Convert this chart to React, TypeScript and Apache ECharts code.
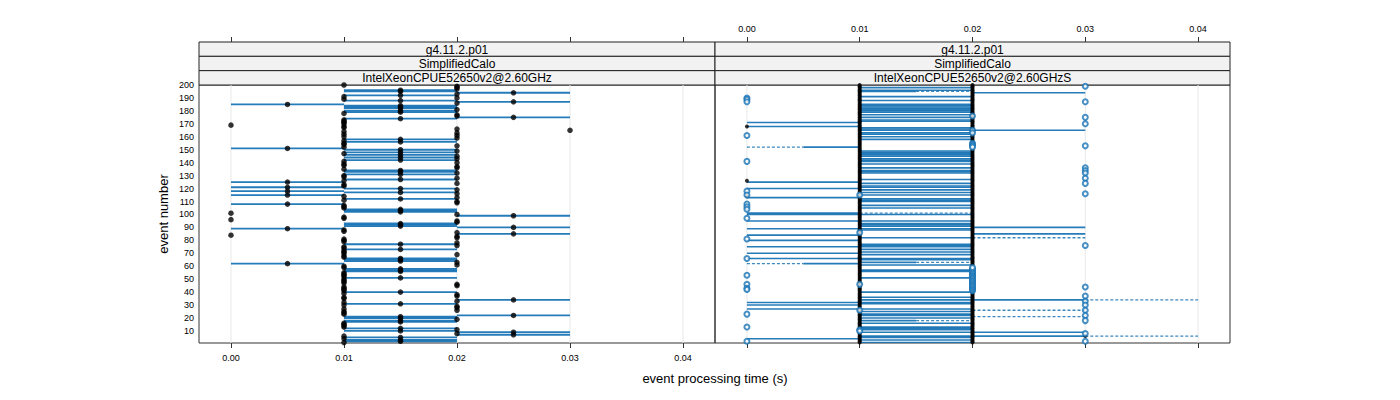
import React, { useEffect, useRef } from "react";
import * as echarts from "echarts";

// ---------- axes ----------
const X_MIN = -0.00283;
const X_MAX = 0.04283;
const Y_MIN = 0.7;
const Y_MAX = 200;
const xTicks = [0, 0.01, 0.02, 0.03, 0.04];
const yTicks = [10, 20, 30, 40, 50, 60, 70, 80, 90, 100, 110, 120, 130, 140, 150, 160, 170, 180, 190, 200];
const stripsLeft = ["g4.11.2.p01", "SimplifiedCalo", "IntelXeonCPUE52650v2@2.60GHz"];
const stripsRight = ["g4.11.2.p01", "SimplifiedCalo", "IntelXeonCPUE52650v2@2.60GHzS"];
const xTitle = "event processing time (s)";
const yTitle = "event number";
const eventNumbers = Array.from({ length: 200 }, (_, i) => i + 1);

// ---------- left panel: range (lo..hi) per event, dot at centre ----------
const leftLo = [
  .01, .01, .01, .01, .01, .01, .02, .02, .02, .01, .02, .01, .01, .01, .01, .01, .01, .01, .02, .01,
  .01, .02, .01, .01, .01, .02, .01, .02, .02, .01, .01, .01, .02, .02, .01, .01, .02, .02, .01, .01,
  .01, .01, .01, .01, .02, .02, .01, .01, .01, .01, .01, .01, .01, .01, .01, .01, .01, .01, .01, .01,
  .02, 0, .02, .01, .01, .01, .01, .01, .02, .01, .01, .01, .01, .01, .01, .02, .01, .02, .01, .01,
  .01, .02, .02, 0, .02, .02, .01, .01, 0, .02, .01, .01, .01, .02, .02, 0, .01, .01, .02, .02,
  0, .01, .01, .01, .01, .01, .01, 0, .02, .02, .01, .01, .02, .01, 0, .02, .01, 0, .02, .01,
  0, .01, .01, .02, 0, .01, .01, .02, .01, .01, .01, .02, .01, .01, .01, .02, .02, .01, .01, .02,
  .01, .01, .02, .01, .02, .01, .01, .01, .02, .01, 0, .01, .02, .01, .01, .01, .01, .01, .02, .01,
  .02, .01, .02, .01, .03, .02, .01, .01, 0, .01, .01, .01, .01, .01, .02, .02, .02, .01, .01, .01,
  .02, .01, .01, .01, 0, .02, .02, .01, .01, .02, .01, .01, .02, .02, .01, .01, .02, .02, .02, .01,
];
const leftHi = [
  .01, .02, .02, .01, .02, .01, .03, .02, .03, .02, .02, .02, .01, .01, .01, .01, .02, .02, .02, .02,
  .02, .03, .01, .01, .01, .02, .01, .02, .02, .01, .02, .01, .02, .03, .01, .01, .02, .02, .01, .02,
  .01, .01, .01, .01, .02, .02, .01, .01, .01, .01, .02, .01, .01, .01, .01, .02, .02, .02, .01, .01,
  .02, .01, .02, .02, .02, .02, .01, .01, .02, .01, .01, .01, .02, .01, .01, .02, .02, .02, .01, .01,
  .01, .02, .02, 0, .03, .02, .01, .01, .01, .03, .02, .02, .02, .02, .02, 0, .01, .01, .03, .02,
  0, .02, .02, .02, .01, .01, .01, .01, .02, .02, .01, .02, .02, .01, .01, .02, .02, .01, .02, .02,
  .01, .01, .01, .02, .01, .01, .02, .02, .01, .01, .02, .02, .02, .02, .01, .02, .02, .01, .01, .02,
  .01, .02, .02, .02, .02, .02, .01, .02, .02, .02, .01, .01, .02, .01, .01, .02, .01, .02, .02, .01,
  .02, .01, .02, .01, .03, .02, .01, .01, 0, .01, .01, .01, .01, .02, .03, .02, .02, .01, .02, .02,
  .02, .02, .02, .02, .01, .02, .03, .02, .01, .02, .01, .02, .02, .03, .02, .02, .02, .02, .02, .01,
];

// ---------- right panel ----------
// events whose solid range spans 0.01 .. 0.02
const rightMidEvents = [
  198, 196, 191, 188, 185, 184, 183, 182, 181, 180, 179, 177, 175, 173, 172, 167, 166, 165, 163, 162,
  160, 158, 149, 148, 147, 146, 145, 143, 142, 141, 139, 136, 134, 133, 132, 127, 124, 122, 121, 119,
  117, 115, 112, 111, 110, 107, 105, 100, 95, 93, 92, 91, 89, 88, 82, 77, 76, 75, 73, 71, 69, 66,
  65, 61, 57, 56, 51, 40, 36, 34, 32, 31, 27, 25, 23, 22, 20, 16, 13, 12, 11, 9, 6, 5, 3, 1,
];
// other solid ranges [from, to, event]
const rightSide = [
  [0, 0.01, 171], [0, 0.01, 168], [0, 0.01, 125], [0, 0.01, 120], [0, 0.01, 113], [0, 0.01, 101],
  [0, 0.01, 100], [0, 0.01, 95], [0, 0.01, 89], [0, 0.01, 84], [0, 0.01, 80], [0, 0.01, 75],
  [0, 0.01, 70], [0, 0.01, 66], [0, 0.01, 32], [0, 0.01, 30], [0, 0.01, 27], [0, 0.01, 4],
  [0.005, 0.01, 152], [0.005, 0.01, 62],
  [0.02, 0.03, 194], [0.02, 0.03, 165], [0.02, 0.03, 90], [0.02, 0.03, 85], [0.02, 0.03, 34],
  [0.02, 0.03, 9], [0.02, 0.03, 6],
  [0.01, 0.015, 195], [0.01, 0.015, 63], [0.01, 0.015, 18],
];
// dashed ranges [from, to, event]
const rightDashed = [
  [0, 0.005, 152], [0, 0.005, 62], [0.015, 0.02, 195], [0.01, 0.02, 101], [0.015, 0.02, 63],
  [0.015, 0.02, 18], [0.02, 0.03, 82], [0.03, 0.04, 34], [0.02, 0.03, 26], [0.02, 0.03, 21], [0.03, 0.04, 6],
];
// filled black points: column at 0.01 and column at 0.02 (null = none)
const rightDotA = [
  .01, .01, .01, .01, .01, .01, .01, .01, .01, .01, .01, .01, .01, .01, .01, .01, .01, .01, .01, .01,
  .01, .01, .01, .01, .01, .01, .01, .01, .01, .01, .01, .01, .01, .01, .01, .01, .01, .01, .01, .01,
  .01, .01, .01, .01, .01, .01, .01, .01, .01, .01, .01, .01, .01, .01, .01, .01, .01, .01, .01, .01,
  .01, .01, .01, .01, .01, .01, .01, .01, .01, .01, .01, .01, .01, .01, .01, .01, .01, .01, .01, .01,
  .01, .01, .01, .01, .01, .01, .01, .01, .01, .01, .01, .01, .01, .01, .01, .01, .01, .01, .01, .01,
  .01, .01, .01, .01, .01, .01, .01, .01, .01, .01, .01, .01, .01, .01, .01, .01, .01, .01, .01, .01,
  .01, .01, .01, .01, .01, .01, .01, .01, .01, .01, .01, .01, .01, .01, .01, .01, .01, .01, .01, .01,
  .01, .01, .01, .01, .01, .01, .01, .01, .01, .01, .01, .01, .01, .01, .01, .01, .01, .01, .01, .01,
  .01, .01, .01, .01, .01, .01, .01, .01, .01, .01, .01, .01, .01, .01, .01, .01, .01, .01, .01, .01,
  .01, .01, .01, .01, .01, .01, .01, .01, .01, .01, .01, .01, .01, .01, .01, .01, .01, .01, .01, .01,
];
const rightDotB = [
  .02, .02, .02, .02, .02, .02, .02, .02, .02, .02, .02, .02, .02, .02, .02, .02, .02, .02, .02, .02,
  .02, .02, .02, .02, .02, .02, .02, .02, .02, .02, .02, .02, .02, .02, .02, .02, .02, .02, .02, .02,
  null, null, null, null, null, null, null, null, null, null, null, null, null, null, null, null, null, null, null, .02,
  .02, .02, .02, .02, .02, .02, .02, .02, .02, .02, .02, .02, .02, .02, .02, .02, .02, .02, .02, .02,
  .02, .02, .02, .02, .02, .02, .02, .02, .02, .02, .02, .02, .02, .02, .02, .02, .02, .02, .02, .02,
  .02, .02, .02, .02, .02, .02, .02, .02, .02, .02, .02, .02, .02, .02, .02, .02, .02, .02, .02, .02,
  .02, .02, .02, .02, .02, .02, .02, .02, .02, .02, .02, .02, .02, .02, .02, .02, .02, .02, .02, .02,
  .02, .02, .02, .02, .02, .02, .02, .02, .02, .02, .02, null, null, null, null, .02, .02, .02, .02, .02,
  .02, .02, .02, .02, .02, .02, .02, .02, .02, .02, .02, .02, .02, .02, .02, .02, .02, .02, .02, .02,
  .02, .02, .02, .02, .02, .02, .02, .02, .02, .02, .02, .02, .02, .02, .02, .02, .02, .02, .02, .02,
];
// extra filled points [x, event]
const rightExtraDots = [[0, 168], [0, 126], [0, 114], [0.03, 6]];
// open circles [x, event]
const rightCircles = [
  [0, 190], [0, 189], [0, 187], [0, 161], [0, 141], [0, 118], [0, 115], [0, 108], [0, 106], [0, 104],
  [0, 97], [0, 81], [0, 66], [0, 53], [0, 46], [0, 43], [0, 42], [0, 23], [0, 13], [0, 2],
  [0.03, 199], [0.03, 187], [0.03, 175], [0.03, 170], [0.03, 153], [0.03, 136], [0.03, 134], [0.03, 132],
  [0.03, 128], [0.03, 124], [0.03, 116], [0.03, 76], [0.03, 44], [0.03, 37], [0.03, 33], [0.03, 30],
  [0.03, 26], [0.03, 22], [0.03, 18], [0.03, 8], [0.03, 2],
  [0.02, 41], [0.02, 42], [0.02, 43], [0.02, 44], [0.02, 45], [0.02, 46], [0.02, 47], [0.02, 48], [0.02, 49],
  [0.02, 50], [0.02, 51], [0.02, 52], [0.02, 53], [0.02, 54], [0.02, 55], [0.02, 56], [0.02, 57], [0.02, 58],
  [0.02, 59], [0.02, 176], [0.02, 165], [0.02, 163], [0.02, 155], [0.02, 154], [0.02, 153], [0.02, 152],
  [0.01, 115], [0.01, 86], [0.01, 46], [0.01, 26], [0.01, 11], [0.01, 10],
];

// ---------- styling ----------
const BLUE = "#1a74b5";
const FONT = "'Liberation Sans', Arial, Helvetica, sans-serif";
const GRID_TOP = 85;
const GRID_H = 258;
const PANELS = [
  { left: 199, width: 516 },
  { left: 715, width: 515 },
];
const STRIP_TOP = 42;
const STRIP_H = (GRID_TOP - STRIP_TOP) / 3;

const segRender = (width: number, dashed: boolean) => (params: any, api: any) => {
  const p0 = api.coord([api.value(0), api.value(2)]);
  const p1 = api.coord([api.value(1), api.value(2)]);
  return {
    type: "line",
    shape: { x1: p0[0], y1: p0[1], x2: p1[0], y2: p1[1] },
    style: { stroke: BLUE, lineWidth: width, lineDash: dashed ? [3, 2] : null, opacity: dashed ? 0.85 : 0.95 },
  };
};

const gridRender = (params: any, api: any) => {
  const p0 = api.coord([api.value(0), Y_MIN]);
  const p1 = api.coord([api.value(0), Y_MAX]);
  return {
    type: "line",
    shape: { x1: p0[0], y1: p0[1], x2: p1[0], y2: p1[1] },
    style: { stroke: "#e8e8e8", lineWidth: 1 },
  };
};

export default function App() {
  const ref = useRef<HTMLDivElement>(null);

  useEffect(() => {
    if (!ref.current) return;
    const chart = echarts.init(ref.current, null, { renderer: "svg" });

    const fmt = (v: number) => v.toFixed(2);
    const xBase = (gridIndex: number, position: string, labels: boolean, offset = 0) => ({
      type: "value",
      gridIndex,
      position,
      offset,
      min: X_MIN,
      max: X_MAX,
      splitLine: { show: false },
      axisLine: { show: false },
      axisTick: { show: true, customValues: xTicks, length: 5, lineStyle: { color: "#333", width: 1 } },
      axisLabel: labels
        ? { show: true, customValues: xTicks, formatter: fmt, fontSize: 9, color: "#000", fontFamily: FONT, margin: position === "top" ? 9 : 10 }
        : { show: false },
    });

    const leftSegs = eventNumbers
      .map((ev, i) => [leftLo[i], leftHi[i], ev])
      .filter((d) => d[1] > d[0]);
    const leftDots = eventNumbers.map((ev, i) => [(leftLo[i] + leftHi[i]) / 2, ev]);
    const rightSolid = [
      ...rightMidEvents.map((ev) => [0.01, 0.02, ev]),
      ...rightSide,
    ];
    const rightBlack = [
      ...eventNumbers.map((ev, i) => [rightDotA[i], ev]),
      ...eventNumbers.filter((_, i) => rightDotB[i] !== null).map((ev) => [rightDotB[ev - 1], ev]),
      ...rightExtraDots,
    ];

    const graphics: any[] = [];
    [stripsLeft, stripsRight].forEach((labels, p) => {
      labels.forEach((t, r) => {
        const y = STRIP_TOP + r * STRIP_H;
        graphics.push({
          type: "rect",
          shape: { x: PANELS[p].left, y, width: PANELS[p].width, height: STRIP_H },
          style: { fill: "#f2f2f2", stroke: "#222", lineWidth: 1 },
        });
        graphics.push({
          type: "text",
          x: PANELS[p].left + PANELS[p].width / 2,
          y: y + STRIP_H / 2 + 0.5,
          style: { text: t, fill: "#000", font: `12px ${FONT}`, textAlign: "center", textVerticalAlign: "middle", verticalAlign: "middle" },
        });
      });
    });
    graphics.push({
      type: "text",
      x: 715,
      y: 378,
      style: { text: xTitle, fill: "#000", font: `13px ${FONT}`, textAlign: "center", textVerticalAlign: "middle", verticalAlign: "middle" },
    });
    graphics.push({
      type: "text",
      x: 163,
      y: GRID_TOP + GRID_H / 2,
      rotation: Math.PI / 2,
      style: { text: yTitle, fill: "#000", font: `13px ${FONT}`, textAlign: "center", textVerticalAlign: "middle", verticalAlign: "middle" },
    });

    chart.setOption({
      animation: false,
      backgroundColor: "#fff",
      textStyle: { fontFamily: FONT },
      grid: PANELS.map((p) => ({
        left: p.left,
        top: GRID_TOP,
        width: p.width,
        height: GRID_H,
        show: true,
        borderColor: "#333",
        borderWidth: 1,
        backgroundColor: "transparent",
      })),
      xAxis: [
        xBase(0, "bottom", true),
        xBase(0, "top", false, GRID_TOP - STRIP_TOP),
        xBase(1, "top", true, GRID_TOP - STRIP_TOP),
        xBase(1, "bottom", false),
      ],
      yAxis: [
        {
          type: "value",
          gridIndex: 0,
          min: Y_MIN,
          max: Y_MAX,
          splitLine: { show: false },
          axisLine: { show: false },
          axisTick: { show: false },
          axisLabel: { customValues: yTicks, fontSize: 9, color: "#000", fontFamily: FONT, margin: 5 },
        },
        {
          type: "value",
          gridIndex: 1,
          min: Y_MIN,
          max: Y_MAX,
          splitLine: { show: false },
          axisLine: { show: false },
          axisTick: { show: false },
          axisLabel: { show: false },
        },
      ],
      graphic: graphics,
      series: [
        {
          type: "custom",
          xAxisIndex: 0,
          yAxisIndex: 0,
          renderItem: gridRender,
          data: xTicks.map((v) => [v]),
          encode: { x: 0 },
          silent: true,
          z: 1,
        },
        {
          type: "custom",
          xAxisIndex: 2,
          yAxisIndex: 1,
          renderItem: gridRender,
          data: xTicks.map((v) => [v]),
          encode: { x: 0 },
          silent: true,
          z: 1,
        },
        {
          type: "custom",
          xAxisIndex: 0,
          yAxisIndex: 0,
          renderItem: segRender(1.8, false),
          data: leftSegs,
          encode: { x: [0, 1], y: 2 },
          clip: true,
          z: 2,
        },
        {
          type: "scatter",
          xAxisIndex: 0,
          yAxisIndex: 0,
          data: leftDots,
          symbol: "circle",
          symbolSize: 5.5,
          itemStyle: { color: "#000" },
          z: 3,
        },
        {
          type: "custom",
          xAxisIndex: 2,
          yAxisIndex: 1,
          renderItem: segRender(1.6, false),
          data: rightSolid,
          encode: { x: [0, 1], y: 2 },
          clip: true,
          z: 2,
        },
        {
          type: "custom",
          xAxisIndex: 2,
          yAxisIndex: 1,
          renderItem: segRender(1.3, true),
          data: rightDashed,
          encode: { x: [0, 1], y: 2 },
          clip: true,
          z: 2,
        },
        {
          type: "scatter",
          xAxisIndex: 2,
          yAxisIndex: 1,
          data: rightBlack,
          symbol: "circle",
          symbolSize: 4,
          itemStyle: { color: "#000" },
          z: 3,
        },
        {
          type: "scatter",
          xAxisIndex: 2,
          yAxisIndex: 1,
          data: rightCircles,
          symbol: "emptyCircle",
          symbolSize: 5,
          itemStyle: { color: BLUE, borderColor: BLUE, borderWidth: 1.5 },
          z: 4,
        },
      ],
    });

    return () => chart.dispose();
  }, []);

  return (
    <div
      ref={ref}
      style={{ position: "absolute", left: 0, top: 0, width: 1400, height: 400, background: "#fff" }}
    />
  );
}
